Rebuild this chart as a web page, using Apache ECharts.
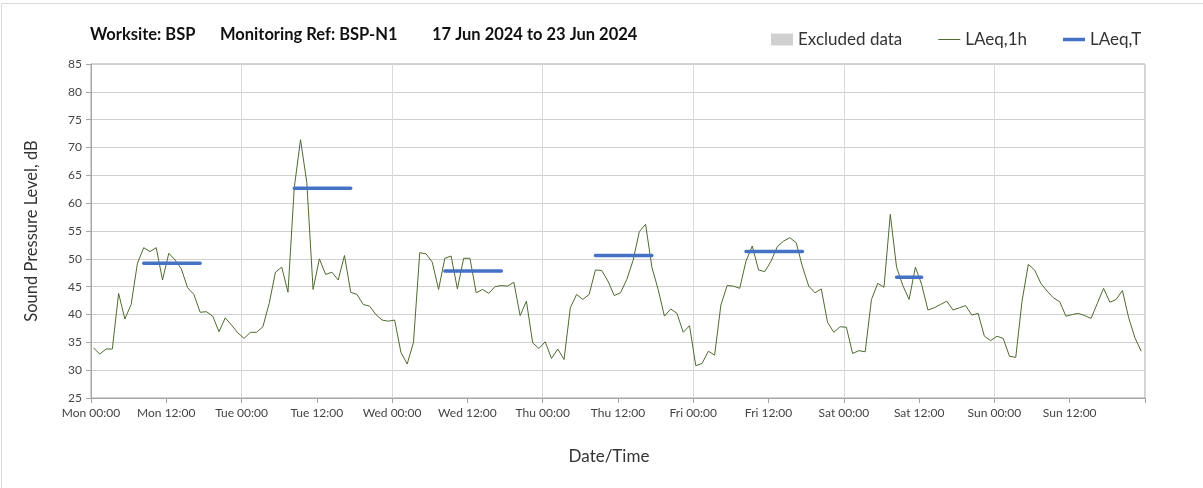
<!DOCTYPE html>
<html>
<head>
<meta charset="utf-8">
<title>BSP-N1 noise monitoring</title>
<script src="https://cdn.jsdelivr.net/npm/echarts@6/dist/echarts.min.js"></script>
<style>
  html, body { margin: 0; padding: 0; background: #fff; }
  #chart { width: 1203px; height: 488px; }
</style>
</head>
<body>
<div id="chart"></div>
<script>
// hourly LAeq,1h values, Mon 17 Jun 00:00 .. Sun 23 Jun 23:00
const laeq1h = [
  34.0, 32.9, 33.8, 33.8, 43.8, 39.2, 41.8, 49.2, 52.0, 51.3, 52.0, 46.2, 51.0, 49.8, 48.2, 44.8, 43.6, 40.4, 40.5, 39.7, 36.9, 39.4, 38.1, 36.7,
  35.7, 36.8, 36.8, 37.8, 42.0, 47.6, 48.5, 44.0, 62.8, 71.4, 63.7, 44.5, 50.0, 47.2, 47.6, 46.2, 50.6, 44.0, 43.6, 41.8, 41.5, 40.0, 39.0, 38.8,
  39.0, 33.2, 31.1, 35.0, 51.1, 50.9, 49.4, 44.5, 50.1, 50.5, 44.6, 50.1, 50.1, 43.9, 44.5, 43.8, 45.0, 45.2, 45.1, 45.8, 39.8, 42.4, 34.9, 33.9,
  35.1, 32.1, 33.8, 31.9, 41.2, 43.6, 42.7, 43.6, 48.0, 47.9, 46.0, 43.4, 43.9, 46.3, 49.7, 54.9, 56.2, 48.5, 44.5, 39.7, 41.0, 40.2, 36.8, 38.0,
  30.8, 31.2, 33.4, 32.7, 41.7, 45.2, 45.1, 44.7, 49.6, 52.3, 48.0, 47.7, 49.6, 52.2, 53.2, 53.8, 52.9, 48.6, 45.1, 43.9, 44.6, 38.6, 36.8, 37.8,
  37.7, 33.0, 33.5, 33.3, 42.7, 45.6, 44.9, 58.0, 48.5, 45.2, 42.7, 48.5, 45.4, 40.8, 41.2, 41.8, 42.4, 40.8, 41.2, 41.6, 39.9, 40.2, 36.1, 35.3,
  36.1, 35.7, 32.5, 32.3, 42.4, 49.0, 48.0, 45.6, 44.2, 43.0, 42.3, 39.7, 40.0, 40.2, 39.8, 39.3, 42.0, 44.7, 42.2, 42.7, 44.3, 39.4, 35.8, 33.4
];
// hour stamp of each reading within the hour
const timeOffset = 0.4;

// LAeq,T periods (hour index of first and last reading) and levels
const laeqTStart = [8, 32, 56, 80, 104, 128];
const laeqTEnd   = [17, 41, 65, 89, 113, 132];
const laeqTValue = [49.2, 62.7, 47.8, 50.6, 51.3, 46.7];

const dayNames = ['Mon', 'Tue', 'Wed', 'Thu', 'Fri', 'Sat', 'Sun'];
const yTicks = { min: 25, max: 85, step: 5 };

const hourlyData = laeq1h.map((v, i) => [i + timeOffset, v]);
const periodData = [];
laeqTStart.forEach((s, k) => {
  for (let h = s; h <= laeqTEnd[k]; h++) periodData.push([h + timeOffset, laeqTValue[k]]);
  periodData.push([laeqTEnd[k] + timeOffset + 0.5, null]);
});

const chart = echarts.init(document.getElementById('chart'));
const font = 'Lato, "Open Sans", sans-serif';
const titleFont = { fontSize: 16.5, fontWeight: 'bold', color: '#111', fontFamily: font };
const option = {
  animation: false,
  textStyle: { fontFamily: font },
  graphic: [{
    type: 'rect', silent: true,
    shape: { x: 1.5, y: 3.5, width: 1240, height: 500 },
    style: { fill: 'none', stroke: '#d9d9d9', lineWidth: 1 }
  }],
  title: {
    left: 90, top: 26, padding: 0,
    text: '{a|Worksite: BSP}{b|Monitoring Ref: BSP-N1}{c|17 Jun 2024 to 23 Jun 2024}',
    textStyle: {
      rich: {
        a: Object.assign({ width: 130 }, titleFont),
        b: Object.assign({ width: 212 }, titleFont),
        c: titleFont
      }
    }
  },
  legend: {
    left: 771, top: 31, padding: 0,
    itemWidth: 22, itemHeight: 12, itemGap: 36,
    textStyle: { fontSize: 17, color: '#333', fontFamily: font },
    data: [
      { name: 'Excluded data', icon: 'rect' },
      { name: 'LAeq,1h', icon: 'path://M0,0 H22 V1 H0 Z' },
      { name: 'LAeq,T', icon: 'path://M0,0 H22 V3.5 H0 Z' }
    ]
  },
  grid: {
    left: 91, right: 58, top: 64, bottom: 90,
    show: true, borderColor: '#a6a6a6', borderWidth: 1
  },
  xAxis: [{
    type: 'value', min: 0, max: 168, interval: 12,
    name: 'Date/Time', nameLocation: 'middle', nameGap: 50,
    nameTextStyle: { fontSize: 17, color: '#333', padding: [0, 18, 0, 0] },
    axisLine: { lineStyle: { color: '#a6a6a6' } },
    axisTick: { length: 5, lineStyle: { color: '#a6a6a6' } },
    splitLine: { show: false },
    axisLabel: {
      fontSize: 12, color: '#444', margin: 9,
      formatter: v => v >= 168 ? '' : dayNames[Math.floor(v / 24)] + ' ' + (v % 24 === 0 ? '00:00' : '12:00')
    }
  }, {
    type: 'value', min: 0, max: 168, interval: 24, position: 'bottom',
    axisLine: { show: false }, axisTick: { show: false }, axisLabel: { show: false },
    splitLine: { show: true, lineStyle: { color: '#d9d9d9' } }
  }],
  yAxis: {
    type: 'value', min: yTicks.min, max: yTicks.max, interval: yTicks.step,
    name: 'Sound Pressure Level, dB', nameLocation: 'middle', nameGap: 51,
    nameTextStyle: { fontSize: 16.5, color: '#333' },
    axisLine: { show: true, lineStyle: { color: '#a6a6a6' } },
    axisTick: { show: true, length: 5, lineStyle: { color: '#a6a6a6' } },
    splitLine: { lineStyle: { color: '#d0d0d0' } },
    axisLabel: { fontSize: 12, color: '#444', margin: 9 }
  },
  series: [
    {
      name: 'Excluded data', type: 'bar', data: [],
      itemStyle: { color: '#d0d0d0' }
    },
    {
      name: 'LAeq,1h', type: 'line', data: hourlyData,
      symbol: 'none', lineStyle: { color: '#4f6a2f', width: 1 },
      itemStyle: { color: '#4f6a2f' }, z: 3
    },
    {
      name: 'LAeq,T', type: 'line', data: periodData,
      symbol: 'none', connectNulls: false,
      lineStyle: { color: '#4472c4', width: 3.5, cap: 'round' },
      itemStyle: { color: '#4472c4' }, z: 4
    }
  ]
};
chart.setOption(option);
</script>
</body>
</html>
